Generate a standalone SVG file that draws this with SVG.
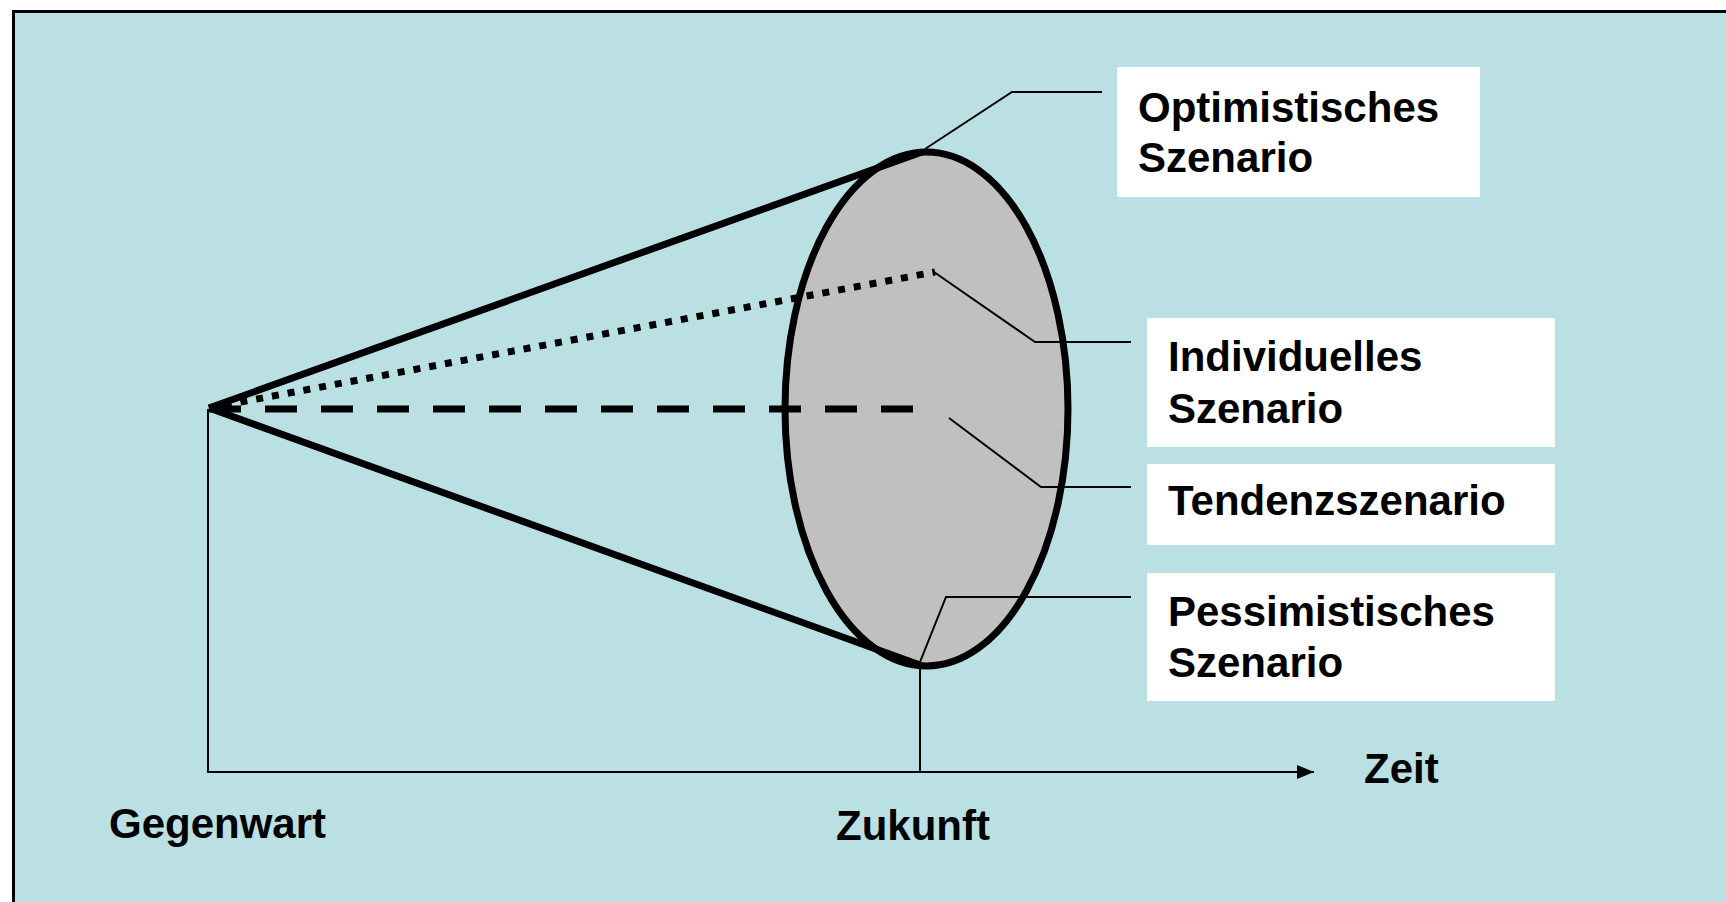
<svg xmlns="http://www.w3.org/2000/svg" width="1726" height="902" viewBox="0 0 1726 902">
<style>
.lbl{font-family:"Liberation Sans",Arial,sans-serif;font-weight:bold;font-size:42px;fill:#000}
.box{fill:#fff;stroke:none}
.thin{stroke:#000;stroke-width:2;fill:none}
.thick{stroke:#000;stroke-width:7;fill:none}
</style>
<defs>
<marker id="arr" markerWidth="17" markerHeight="14" refX="17" refY="7" orient="auto" markerUnits="userSpaceOnUse">
<path d="M0,0 L17,7 L0,14 Z" fill="#000"/>
</marker>
</defs>
<rect x="0" y="0" width="1726" height="902" fill="#fff"/>
<rect x="13.5" y="11.5" width="1720" height="900" fill="#BBE0E3" stroke="#000" stroke-width="3"/>
<g id="ellipse">
<ellipse cx="926.5" cy="409" rx="141.5" ry="257" fill="#C0C0C0" stroke="#000" stroke-width="7"/>
</g>
<g id="connectors">
<line class="thick" x1="209" y1="408" x2="922" y2="152"/>
<line class="thick" x1="209" y1="408" x2="920" y2="665"/>
<line class="thick" x1="209" y1="408" x2="935" y2="272" stroke-dasharray="7 9"/>
<line class="thick" x1="209" y1="409" x2="913" y2="409" stroke-dasharray="32 24"/>
<polyline class="thin" points="208,409 208,772 1314,772" marker-end="url(#arr)"/>
<line class="thin" x1="920" y1="666" x2="920" y2="772"/>
<polyline class="thin" points="925,149 1012,92 1102,92"/>
<polyline class="thin" points="934,272 1035,342 1131,342"/>
<polyline class="thin" points="949,418 1041,487 1131,487"/>
<polyline class="thin" points="920,662 946,597 1131,597"/>
</g>
<g id="optimistisch">
<rect class="box" x="1117" y="67" width="363" height="130"/>
<text class="lbl" x="1138" y="122">Optimistisches</text>
<text class="lbl" x="1138" y="172">Szenario</text>
</g>
<g id="individuell">
<rect class="box" x="1147" y="318" width="408" height="129"/>
<text class="lbl" x="1168" y="371">Individuelles</text>
<text class="lbl" x="1168" y="423">Szenario</text>
</g>
<g id="tendenz">
<rect class="box" x="1147" y="464" width="408" height="81"/>
<text class="lbl" x="1168" y="515">Tendenzszenario</text>
</g>
<g id="pessimistisch">
<rect class="box" x="1147" y="573" width="408" height="128"/>
<text class="lbl" x="1168" y="626">Pessimistisches</text>
<text class="lbl" x="1168" y="677">Szenario</text>
</g>
<g id="axis-labels">
<text class="lbl" x="1364" y="783">Zeit</text>
<text class="lbl" x="836" y="840">Zukunft</text>
<text class="lbl" x="109" y="838">Gegenwart</text>
</g>
</svg>
